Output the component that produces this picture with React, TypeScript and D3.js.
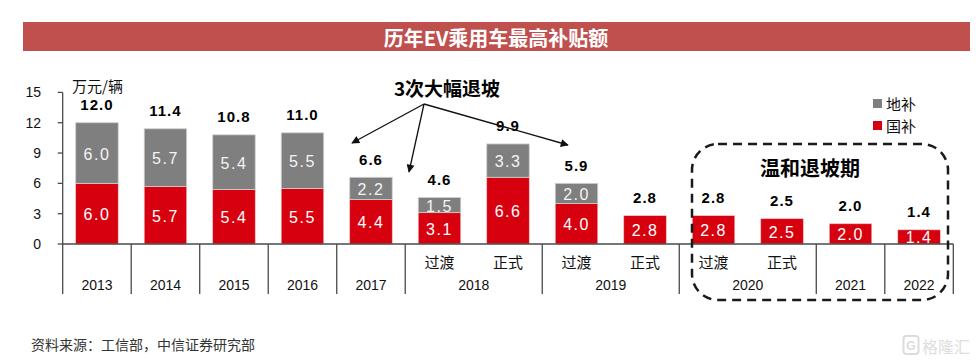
import React from 'react'
import * as d3 from 'd3'

const W = 978
const H = 364

// categories (one per bar)
const CATEGORIES = [
  '2013', '2014', '2015', '2016', '2017',
  '2018过渡', '2018正式', '2019过渡', '2019正式',
  '2020过渡', '2020正式', '2021', '2022',
]
const SUB_LABELS = ['', '', '', '', '', '过渡', '正式', '过渡', '正式', '过渡', '正式', '', '']
const NATIONAL = [6.0, 5.7, 5.4, 5.5, 4.4, 3.1, 6.6, 4.0, 2.8, 2.8, 2.5, 2.0, 1.4]
const LOCAL = [6.0, 5.7, 5.4, 5.5, 2.2, 1.5, 3.3, 2.0, 0, 0, 0, 0, 0]
const TOTALS = [12.0, 11.4, 10.8, 11.0, 6.6, 4.6, 9.9, 5.9, 2.8, 2.8, 2.5, 2.0, 1.4]
// bottom row: year label + how many bars it spans
const YEAR_GROUPS = [
  { year: '2013', span: 1 }, { year: '2014', span: 1 }, { year: '2015', span: 1 },
  { year: '2016', span: 1 }, { year: '2017', span: 1 }, { year: '2018', span: 2 },
  { year: '2019', span: 2 }, { year: '2020', span: 2 }, { year: '2021', span: 1 },
  { year: '2022', span: 1 },
]
const Y_TICKS = [0, 3, 6, 9, 12, 15]

const RED = '#D7000F'
const GRAY = '#7F7F7F'
const AXIS = '#4a4a4a'
const CJK = '"Noto Sans CJK SC", "Liberation Sans", sans-serif'
const NUM = '"Liberation Sans", Arial, sans-serif'

export default function App() {
  const x = d3.scaleBand<string>()
    .domain(CATEGORIES)
    .range([62.7, 953.3])
    .paddingInner(0.38)
    .paddingOuter(0.19)
  const y = d3.scaleLinear().domain([0, 15]).range([244, 92.4])
  const step = x.step()
  const x0 = 62.7
  const bw = x.bandwidth()

  // group boundaries for the year row
  let acc = 0
  const groups = YEAR_GROUPS.map(g => {
    const start = acc
    acc += g.span
    return { ...g, start, end: acc }
  })

  const arrowOrigin = [424, 104]
  const arrowTips = [[352, 143], [409, 172], [568, 145]]

  return (
    <svg width={W} height={H} style={{ position: 'absolute', left: 0, top: 0, background: '#fff' }}>
      <defs>
        <marker id="ah" viewBox="0 0 10 10" refX="9" refY="5" markerWidth="10" markerHeight="8"
          markerUnits="userSpaceOnUse" orient="auto">
          <path d="M0,0 L10,5 L0,10 z" fill="#111" />
        </marker>
      </defs>

      {/* title bar */}
      <rect x={23} y={22} width={947} height={29} fill="#C0504D" />
      <text x={496} y={37} textAnchor="middle" dominantBaseline="central" fill="#fff"
        fontFamily={CJK} fontWeight={700} fontSize={20}>历年EV乘用车最高补贴额</text>

      {/* y axis */}
      <line x1={x0} x2={x0} y1={y(15)} y2={y(0)} stroke={AXIS} strokeWidth={1.3} />
      {Y_TICKS.map(t => (
        <g key={t}>
          <line x1={x0 - 5} x2={x0} y1={y(t)} y2={y(t)} stroke={AXIS} strokeWidth={1.3} />
          <text x={41} y={y(t)} textAnchor="end" dominantBaseline="central" fontFamily={NUM}
            fontSize={14} fill="#111">{t}</text>
        </g>
      ))}
      <text x={72} y={85} dominantBaseline="central" fontFamily={CJK} fontSize={15} fill="#111">万元/辆</text>

      {/* bars */}
      {CATEGORIES.map((c, i) => {
        const bx = x(c) as number
        const cx = bx + bw / 2
        const nat = NATIONAL[i]
        const loc = LOCAL[i]
        return (
          <g key={c}>
            <rect x={bx} y={y(nat)} width={bw} height={y(0) - y(nat)} fill={RED} stroke="#f2c0c0" strokeWidth={0.6} />
            {loc > 0 && (
              <rect x={bx} y={y(nat + loc)} width={bw} height={y(nat) - y(nat + loc)} fill={GRAY}
                stroke="#d0d0d0" strokeWidth={0.8} />
            )}
            <text x={cx} y={(y(0) + y(nat)) / 2 + 1} textAnchor="middle" dominantBaseline="central"
              fontFamily={NUM} fontSize={16} letterSpacing={1.5} fill="#fff">{nat.toFixed(1)}</text>
            {loc > 0 && (
              <text x={cx} y={(y(nat) + y(nat + loc)) / 2 + 1} textAnchor="middle" dominantBaseline="central"
                fontFamily={NUM} fontSize={16} letterSpacing={1.5} fill="#f4f4f4">{loc.toFixed(1)}</text>
            )}
            <text x={cx} y={y(nat + loc) - 18} textAnchor="middle" dominantBaseline="central"
              fontFamily={NUM} fontWeight={700} fontSize={15} letterSpacing={1} fill="#000">{TOTALS[i].toFixed(1)}</text>
            {SUB_LABELS[i] && (
              <text x={cx} y={261} textAnchor="middle" dominantBaseline="central" fontFamily={CJK}
                fontSize={15} fill="#111">{SUB_LABELS[i]}</text>
            )}
          </g>
        )
      })}

      {/* x axis and group separators */}
      <line x1={x0} x2={x0 + step * CATEGORIES.length} y1={y(0)} y2={y(0)} stroke={AXIS} strokeWidth={1.5} />
      <line x1={x0} x2={x0} y1={y(0)} y2={294} stroke={AXIS} strokeWidth={1.3} />
      {groups.map(g => (
        <g key={g.year}>
          <line x1={x0 + step * g.end} x2={x0 + step * g.end} y1={y(0)} y2={294} stroke={AXIS} strokeWidth={1.3} />
          <text x={x0 + step * (g.start + g.end) / 2} y={285} textAnchor="middle" dominantBaseline="central"
            fontFamily={NUM} fontSize={14} fill="#111">{g.year}</text>
        </g>
      ))}

      {/* annotation arrows */}
      <text x={447} y={87} textAnchor="middle" dominantBaseline="central" fontFamily={CJK}
        fontWeight={700} fontSize={19} fill="#000">3次大幅退坡</text>
      {arrowTips.map(([tx, ty], i) => (
        <line key={i} x1={arrowOrigin[0]} y1={arrowOrigin[1]} x2={tx} y2={ty} stroke="#111"
          strokeWidth={1.3} markerEnd="url(#ah)" />
      ))}

      {/* dashed box */}
      <rect x={692} y={144} width={256} height={156} rx={26} fill="none" stroke="#1a1a1a"
        strokeWidth={2.5} strokeDasharray="9 6" />
      <text x={810} y={167} textAnchor="middle" dominantBaseline="central" fontFamily={CJK}
        fontWeight={700} fontSize={20} fill="#000">温和退坡期</text>

      {/* legend */}
      <rect x={873} y={99} width={9} height={9} fill={GRAY} />
      <text x={886} y={103.5} dominantBaseline="central" fontFamily={CJK} fontSize={15} fill="#111">地补</text>
      <rect x={873} y={121} width={9} height={9} fill={RED} />
      <text x={886} y={125.5} dominantBaseline="central" fontFamily={CJK} fontSize={15} fill="#111">国补</text>

      {/* source */}
      <text x={31} y={344} dominantBaseline="central" fontFamily={CJK} fontSize={14} fill="#333">资料来源：工信部，中信证券研究部</text>

      {/* watermark */}
      <rect x={903.5} y={336} width={15} height={18} rx={3} fill="none" stroke="#dcdcdc" strokeWidth={2} />
      <text x={911} y={346} textAnchor="middle" dominantBaseline="central" fontFamily={NUM} fontWeight={700}
        fontSize={12} fill="#dcdcdc">G</text>
      <text x={922} y={346} dominantBaseline="central" fontFamily={CJK} fontSize={16} fill="#dedede">格隆汇</text>
    </svg>
  )
}
